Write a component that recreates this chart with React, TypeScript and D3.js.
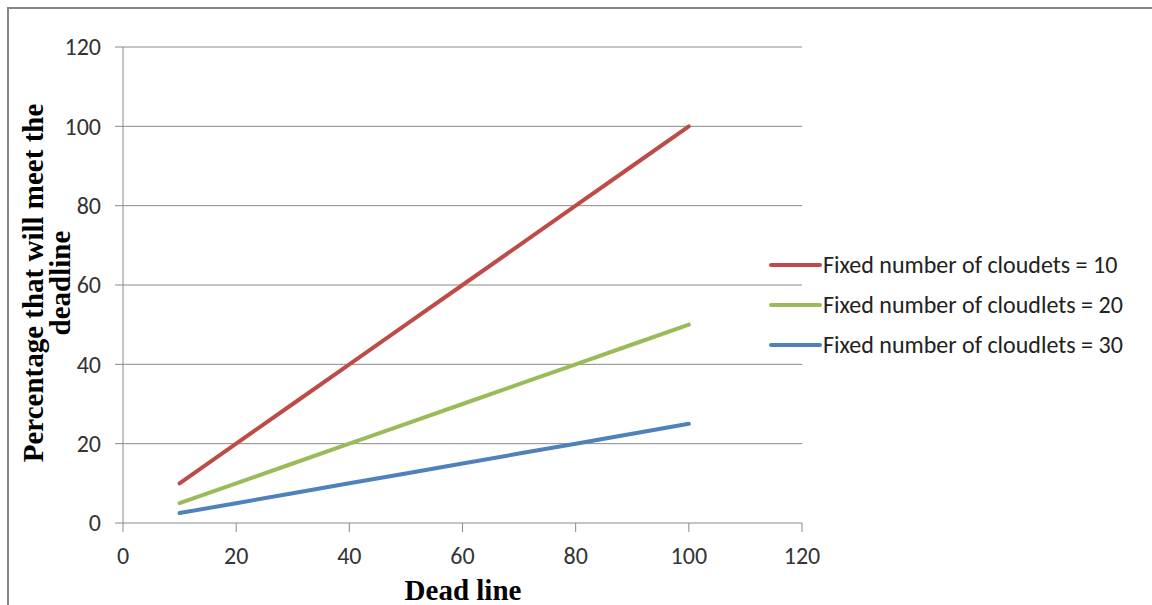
import React from "react";
import * as d3 from "d3";

const deadlines = [10, 20, 30, 40, 50, 60, 70, 80, 90, 100];
const cloudlets10 = [10, 20, 30, 40, 50, 60, 70, 80, 90, 100];
const cloudlets20 = [5, 10, 15, 20, 25, 30, 35, 40, 45, 50];
const cloudlets30 = [2.5, 5, 7.5, 10, 12.5, 15, 17.5, 20, 22.5, 25];
const seriesNames = [
  "Fixed number of cloudets = 10",
  "Fixed number of cloudlets = 20",
  "Fixed number of cloudlets = 30",
];
const seriesColors = ["#BE4B48", "#9BBB59", "#4F81BD"];
const xTicks = [0, 20, 40, 60, 80, 100, 120];
const yTicks = [0, 20, 40, 60, 80, 100, 120];

export default function App() {
  const W = 1152, H = 605;
  const x = d3.scaleLinear().domain([0, 120]).range([123, 802]);
  const y = d3.scaleLinear().domain([0, 120]).range([523, 47]);
  const series = [cloudlets10, cloudlets20, cloudlets30];
  const line = d3
    .line<[number, number]>()
    .x((d) => x(d[0]))
    .y((d) => y(d[1]));
  const tickFont = "Carlito, 'Open Sans', 'Liberation Sans', sans-serif";
  const serif = "'Liberation Serif', 'Times New Roman', serif";
  return (
    <svg
      width={W}
      height={H}
      style={{ position: "fixed", left: 0, top: 0, background: "#fff" }}
    >
      <rect x={0} y={0} width={W} height={H} fill="#fff" />
      <rect x={8} y={8} width={W + 10} height={H + 10} fill="none" stroke="#868686" strokeWidth={2} />
      {yTicks.map((t) => (
        <line key={"g" + t} x1={x(0) - 8} x2={x(120)} y1={y(t)} y2={y(t)} stroke="#8a8a8a" strokeWidth={1} />
      ))}
      <line x1={x(0)} x2={x(0)} y1={y(0)} y2={y(120)} stroke="#8a8a8a" strokeWidth={1} />
      {xTicks.map((t) => (
        <line key={"xt" + t} x1={x(t)} x2={x(t)} y1={y(0)} y2={y(0) + 9} stroke="#8a8a8a" strokeWidth={1} />
      ))}
      {yTicks.map((t) => (
        <text key={"yl" + t} x={x(0) - 22} y={y(t)} dy="0.35em" textAnchor="end" fontFamily={tickFont} fontSize={24} fill="#333">
          {t}
        </text>
      ))}
      {xTicks.map((t) => (
        <text key={"xl" + t} x={x(t)} y={y(0) + 41} textAnchor="middle" fontFamily={tickFont} fontSize={24} fill="#333">
          {t}
        </text>
      ))}
      {series.map((s, i) => (
        <path
          key={"s" + i}
          d={line(deadlines.map((d, j) => [d, s[j]] as [number, number])) || ""}
          fill="none"
          stroke={seriesColors[i]}
          strokeWidth={4}
          strokeLinecap="round"
          strokeLinejoin="round"
        />
      ))}
      {seriesNames.map((n, i) => (
        <g key={"lg" + i} transform={`translate(0, ${265 + i * 40})`}>
          <line x1={771} x2={820} y1={0} y2={0} stroke={seriesColors[i]} strokeWidth={4} strokeLinecap="round" />
          <text x={823} y={0} dy="0.35em" fontFamily={tickFont} fontSize={24} fill="#222">
            {n}
          </text>
        </g>
      ))}
      <text x={463} y={600} textAnchor="middle" fontFamily={serif} fontWeight="bold" fontSize={29} fill="#000">
        Dead line
      </text>
      <g transform="translate(0, 283) rotate(-90)">
        <text x={0} y={43} textAnchor="middle" fontFamily={serif} fontWeight="bold" fontSize={29} fill="#000">
          Percentage that will meet the
        </text>
        <text x={0} y={70} textAnchor="middle" fontFamily={serif} fontWeight="bold" fontSize={29} fill="#000">
          deadline
        </text>
      </g>
    </svg>
  );
}
